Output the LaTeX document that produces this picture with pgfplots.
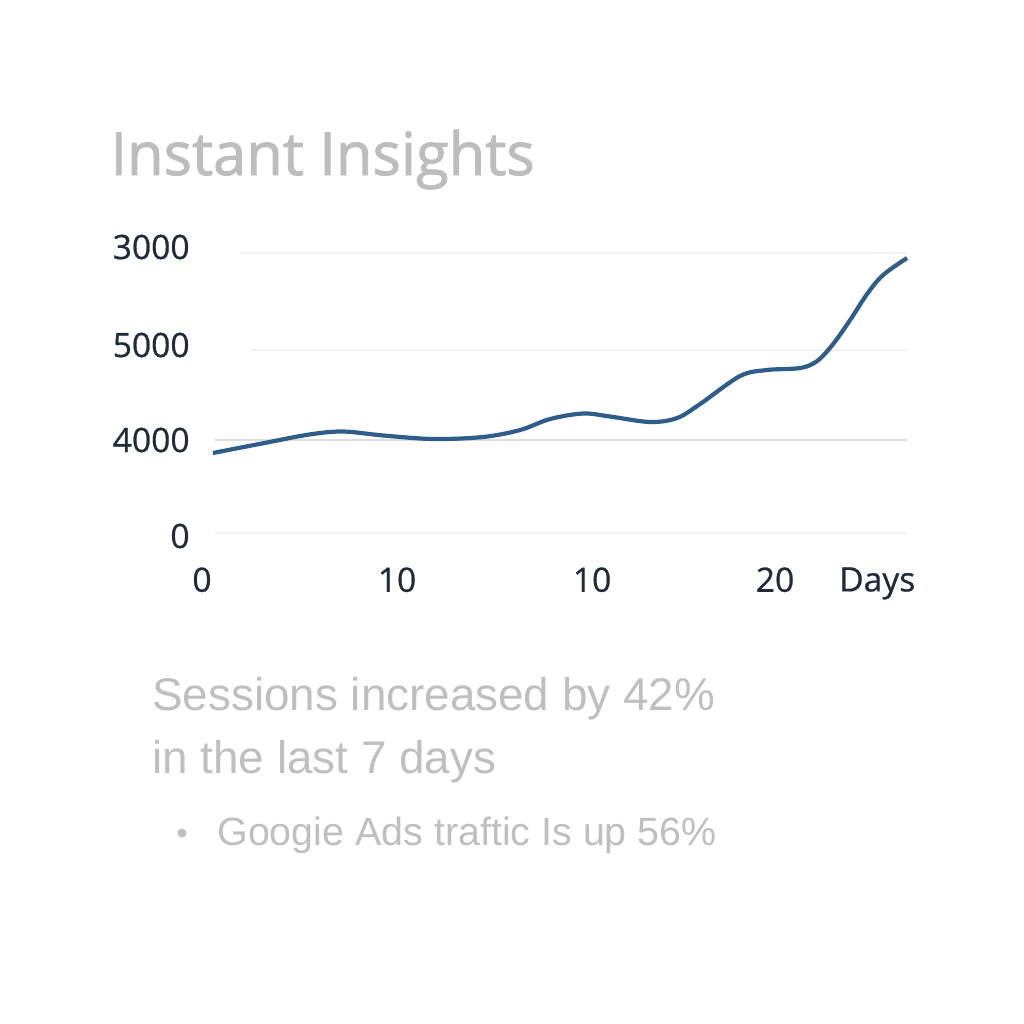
\documentclass[border=0pt]{standalone}
\usepackage{pgfplots}
\pgfplotsset{compat=1.18}
\usepackage{fontspec}
\setmainfont{Liberation Sans}
\newfontfamily\titlefont[FakeBold=1.5]{Open Sans}
\newfontfamily\tickfont[FakeBold=0.6]{Open Sans}
\definecolor{linec}{HTML}{2E5D8A}
\definecolor{titlec}{HTML}{BDBDBD}
\definecolor{bodyc}{HTML}{BFBFBF}
\definecolor{tickc}{HTML}{1E2B3A}
\definecolor{gridA}{HTML}{F2F2F2}
\definecolor{gridB}{HTML}{DCE0E6}
\begin{document}
\begin{tikzpicture}[x=0.5pt,y=0.5pt]
\path[use as bounding box] (0,0) rectangle (1024,-1024);
\node[anchor=base west,inner sep=0pt,text=titlec,font=\titlefont\fontsize{29.8}{35}\selectfont] at (110,-175) {Instant Insights};
\begin{axis}[
  at={(95pt,-280pt)}, anchor=south west,
  scale only axis, width=360pt, height=160pt,
  xmin=-0.615, xmax=36.3, ymin=-270, ymax=2930,
  axis line style={draw=none},
  major tick length=0pt,
  tick style={draw=none},
  /pgf/number format/assume math mode=true,
  xtick={0,10,20,29.38,34.62},
  xticklabels={0,10,10,20,Days},
  ytick={-30,930,1880,2860},
  yticklabels={0,4000,5000,3000},
  ticklabel style={font=\tickfont\fontsize{16.8}{20}\selectfont, text=tickc},
  xticklabel style={anchor=north, inner sep=0pt, yshift=-3.5pt},
  yticklabel style={anchor=east, inner sep=0pt, xshift=0pt},
  clip=false,
]
\addplot[gridA, line width=0.8pt] coordinates {(1.95,2800) (36.15,2800)};
\addplot[gridA, line width=0.8pt] coordinates {(2.46,1830) (36.15,1830)};
\addplot[gridB, line width=0.8pt] coordinates {(0.65,930) (36.15,930)};
\addplot[gridA, line width=0.8pt] coordinates {(0.65,0) (36.15,0)};
\addplot[linec, line width=2.1pt, smooth, tension=0.55] coordinates {
(0.56,800) (3.33,905) (5.5,985) (7.23,1015) (9.3,975) (11.85,940)
(14.41,960) (16.31,1030) (17.85,1140) (19.54,1195) (20.92,1165)
(22.97,1110) (24.36,1150) (25.54,1290) (27.59,1570) (28.97,1630)
(30.67,1650) (31.54,1720) (32.36,1890) (33.23,2130) (34.10,2390) (34.92,2580) (36.15,2750)
};
\end{axis}
\node[anchor=base west,inner sep=0pt,text=bodyc,font=\fontsize{22.9}{27}\selectfont] at (152,-710) {Sessions increased by 42\%};
\node[anchor=base west,inner sep=0pt,text=bodyc,font=\fontsize{22.9}{27}\selectfont] at (152,-773) {in the last 7 days};
\fill[bodyc] (182,-833) circle (4.5);
\node[anchor=base west,inner sep=0pt,text=bodyc,font=\fontsize{19.7}{24}\selectfont] at (217,-845) {Googie Ads traftic Is up 56\%};
\end{tikzpicture}
\end{document}
